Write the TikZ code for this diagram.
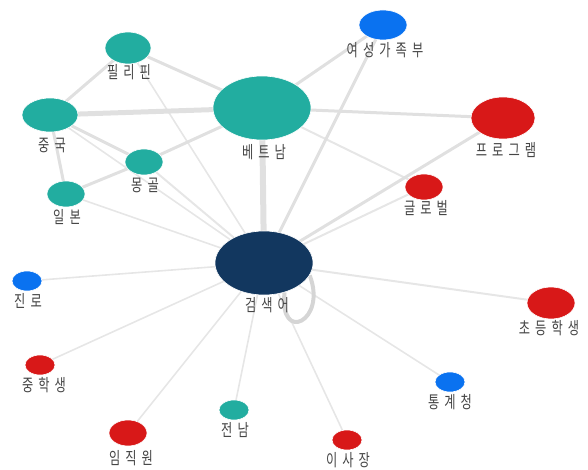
\documentclass[tikz,border=0pt]{standalone}
\usepackage{fontspec}
\newfontfamily\kr[FakeStretch=0.72,LetterSpace=30]{Noto Sans CJK KR}
\usetikzlibrary{shapes.geometric,backgrounds}
\definecolor{teal1}{HTML}{22ADA0}
\definecolor{blue1}{HTML}{0A72F0}
\definecolor{red1}{HTML}{D81818}
\definecolor{navy1}{HTML}{12375F}
\definecolor{edgec}{HTML}{E0E0E0}
\definecolor{thinc}{HTML}{E6E6E6}
\definecolor{txt}{HTML}{454545}
\tikzset{
  bub/.style={ellipse, inner sep=0pt, fill=#1, draw=white, line width=0.6pt},
  lab/.style={text=txt, font=\kr\fontsize{17}{17}\selectfont, inner sep=0pt, anchor=center},
  thinedge/.style={draw=thinc, line width=1.6pt},
  midedge/.style={draw=edgec, line width=3pt},
  fatedge/.style={draw=edgec, line width=6pt},
  loopedge/.style={draw=edgec!95!black, line width=4pt}
}
\begin{document}
\begin{tikzpicture}[x=1pt,y=-1pt]
\useasboundingbox (0,0) rectangle (588,470);
% nodes
\node[bub=teal1, minimum width=46pt, minimum height=32pt] (pil) at (128,48) {};
\node[bub=teal1, minimum width=56pt, minimum height=34pt] (jung) at (50,115) {};
\node[bub=teal1, minimum width=38pt, minimum height=26pt] (mong) at (144,162) {};
\node[bub=teal1, minimum width=38pt, minimum height=26pt] (il) at (66,194) {};
\node[bub=teal1, minimum width=98pt, minimum height=64pt] (vet) at (262,108) {};
\node[bub=blue1, minimum width=48pt, minimum height=30pt] (yeo) at (383,25) {};
\node[bub=red1, minimum width=64pt, minimum height=42pt] (pro) at (503,118) {};
\node[bub=red1, minimum width=38pt, minimum height=26pt] (glo) at (424,187) {};
\node[bub=navy1, minimum width=98pt, minimum height=64pt] (hub) at (264,263) {};
\node[bub=blue1, minimum width=30pt, minimum height=20pt] (jin) at (27,281) {};
\node[bub=red1, minimum width=30pt, minimum height=20pt] (jhs) at (40,365) {};
\node[bub=red1, minimum width=38pt, minimum height=26pt] (im) at (128,433) {};
\node[bub=teal1, minimum width=30pt, minimum height=20pt] (jn) at (234,410) {};
\node[bub=red1, minimum width=30pt, minimum height=20pt] (isa) at (347,440) {};
\node[bub=blue1, minimum width=30pt, minimum height=20pt] (tong) at (450,382) {};
\node[bub=red1, minimum width=48pt, minimum height=32pt] (cho) at (551,303) {};
% labels
\node[lab] (lpil) at (129,72) {필리핀};
\node[lab] (ljung) at (52,145) {중국};
\node[lab] (lmong) at (145,185) {몽골};
\node[lab] (lil) at (67,217) {일본};
\node[lab] (lvet) at (264,152) {베트남};
\node[lab] (lyeo) at (385,50) {여성가족부};
\node[lab] (lpro) at (506,150) {프로그램};
\node[lab] (lglo) at (426,208) {글로벌};
\node[lab] (lhub) at (267,305) {검색어};
\node[lab] (ljin) at (28,301) {진로};
\node[lab] (ljhs) at (44,385) {중학생};
\node[lab] (lim) at (131,458) {임직원};
\node[lab] (ljn) at (235,430) {전남};
\node[lab] (lisa) at (348,460) {이사장};
\node[lab] (ltong) at (450,402) {통계청};
\node[lab] (lcho) at (549,328) {초등학생};
% edges
\begin{pgfonlayer}{background}
\draw[midedge] (pil.center) -- (jung.center);
\draw[midedge] (pil.center) -- (vet.center);
\draw[thinedge] (pil.center) -- (hub.center);
\draw[fatedge, line width=5pt] (jung.center) -- (vet.center);
\draw[midedge] (jung.center) -- (mong.center);
\draw[midedge] (jung.center) -- (il.center);
\draw[thinedge] (jung.center) -- (hub.center);
\draw[midedge] (mong.center) -- (il.center);
\draw[midedge] (mong.center) -- (vet.center);
\draw[thinedge, line width=2pt] (mong.center) -- (hub.center);
\draw[thinedge] (il.center) -- (hub.center);
\draw[fatedge] (vet.center) -- (hub.center);
\draw[midedge] (vet.center) -- (yeo.center);
\draw[midedge] (vet.center) -- (pro.center);
\draw[thinedge, line width=2pt] (vet.center) -- (glo.center);
\draw[midedge] (yeo.center) -- (hub.center);
\draw[midedge] (pro.center) -- (hub.center);
\draw[thinedge, line width=2pt] (glo.center) -- (hub.center);
\draw[thinedge] (hub.center) -- (jin.center);
\draw[thinedge] (hub.center) -- (jhs.center);
\draw[thinedge] (hub.center) -- (im.center);
\draw[thinedge] (hub.center) -- (jn.center);
\draw[thinedge] (hub.center) -- (isa.center);
\draw[thinedge] (hub.center) -- (tong.center);
\draw[thinedge, line width=2pt] (hub.center) -- (cho.center);
\draw[loopedge] (hub.-55) .. controls +(-6,52) and +(18,46) .. (hub.-15);
\end{pgfonlayer}
\end{tikzpicture}
\end{document}
